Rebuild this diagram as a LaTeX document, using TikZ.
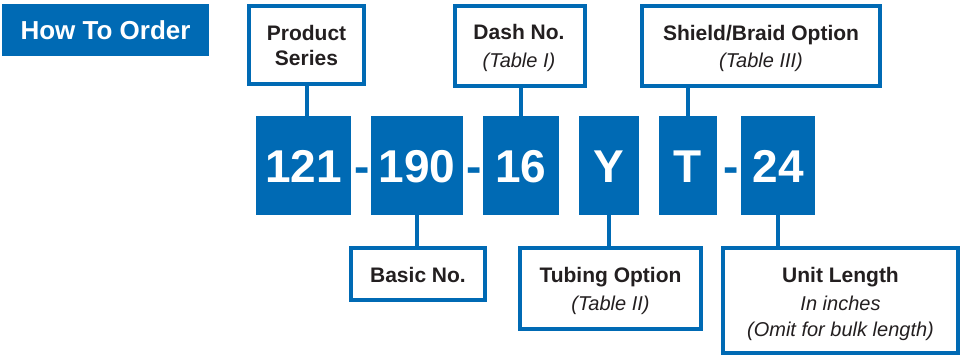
\documentclass[tikz,border=0pt]{standalone}
\usepackage{fontspec}
\setmainfont{Liberation Sans}
\definecolor{gblue}{RGB}{0,106,180}
\definecolor{gtext}{RGB}{35,31,32}
\begin{document}
\begin{tikzpicture}[x=1pt,y=-1pt,
  numbox/.style={fill=gblue, draw=none, inner sep=0pt, outer sep=0pt},
  numtext/.style={anchor=base, inner sep=0pt, text=white, font=\fontsize{46}{46}\selectfont\bfseries},
  dashtext/.style={anchor=base, inner sep=0pt, text=gblue, font=\fontsize{46}{46}\selectfont\bfseries},
  labelbox/.style={draw=gblue, line width=4pt, fill=white, inner sep=0pt, outer sep=0pt},
  headtext/.style={anchor=base, inner sep=0pt, text=gtext, font=\fontsize{21}{25}\selectfont\bfseries},
  subtext/.style={anchor=base, inner sep=0pt, text=gtext, font=\fontsize{20}{24}\selectfont\itshape},
  conn/.style={draw=gblue, line width=4pt},
  titlebox/.style={fill=gblue, draw=none, inner sep=0pt, outer sep=0pt}
]
\useasboundingbox (0,0) rectangle (961,356);

% title
\node[titlebox, minimum width=207pt, minimum height=52pt] (title) at (105.5,30) {};
\node[anchor=base, inner sep=0pt, text=white, font=\fontsize{26}{30}\selectfont\bfseries] (titletxt) at (105.5,39) {How To Order};

% number boxes
\node[numbox, minimum width=95pt, minimum height=99pt] (n121) at (303.5,165.5) {};
\node[numbox, minimum width=92pt, minimum height=99pt] (n190) at (417,165.5) {};
\node[numbox, minimum width=76pt, minimum height=99pt] (n16) at (521,165.5) {};
\node[numbox, minimum width=60pt, minimum height=99pt] (nY) at (609,165.5) {};
\node[numbox, minimum width=58pt, minimum height=99pt] (nT) at (688,165.5) {};
\node[numbox, minimum width=74pt, minimum height=99pt] (n24) at (778,165.5) {};

\node[numtext] (t121) at (303.5,182) {121};
\node[numtext] (t190) at (417,182) {190};
\node[numtext] (t16) at (521,182) {16};
\node[numtext] (tY) at (609,182) {Y};
\node[numtext] (tT) at (688,182) {T};
\node[numtext] (t24) at (778,182) {24};

\node[dashtext] (d1) at (362,182) {-};
\node[dashtext] (d2) at (474,182) {-};
\node[dashtext] (d3) at (731,182) {-};

% label boxes
\node[labelbox, minimum width=115pt, minimum height=78pt] (ps) at (306.5,45) {};
\node[labelbox, minimum width=130pt, minimum height=80pt] (dn) at (520,46) {};
\node[labelbox, minimum width=238pt, minimum height=80pt] (sb) at (761,46) {};
\node[labelbox, minimum width=134pt, minimum height=52pt] (bn) at (418,274) {};
\node[labelbox, minimum width=181pt, minimum height=81pt] (to) at (610.5,288.5) {};
\node[labelbox, minimum width=235pt, minimum height=105pt] (ul) at (840.5,300.5) {};

% connectors
\draw[conn] (ps.south) -- (ps.south |- n121.north);
\draw[conn] (n16.north) -- (n16.north |- dn.south);
\draw[conn] (nT.north) -- (nT.north |- sb.south);
\draw[conn] (n190.south) -- (n190.south |- bn.north);
\draw[conn] (nY.south) -- (nY.south |- to.north);
\draw[conn] (n24.south) -- (n24.south |- ul.north);

% label texts
\node[headtext] (ps1) at (306.5,40) {Product};
\node[headtext] (ps2) at (306.5,65) {Series};
\node[headtext] (dn1) at (519,39) {Dash No.};
\node[subtext] (dn2) at (519,67) {(Table I)};
\node[headtext] (sb1) at (761,40) {Shield/Braid Option};
\node[subtext] (sb2) at (761,67) {(Table III)};
\node[headtext] (bn1) at (418,282) {Basic No.};
\node[headtext] (to1) at (610.5,282) {Tubing Option};
\node[subtext] (to2) at (610.5,310) {(Table II)};
\node[headtext] (ul1) at (840.5,282) {Unit Length};
\node[subtext] (ul2) at (840.5,310) {In inches};
\node[subtext] (ul3) at (840.5,336) {(Omit for bulk length)};
\end{tikzpicture}
\end{document}
